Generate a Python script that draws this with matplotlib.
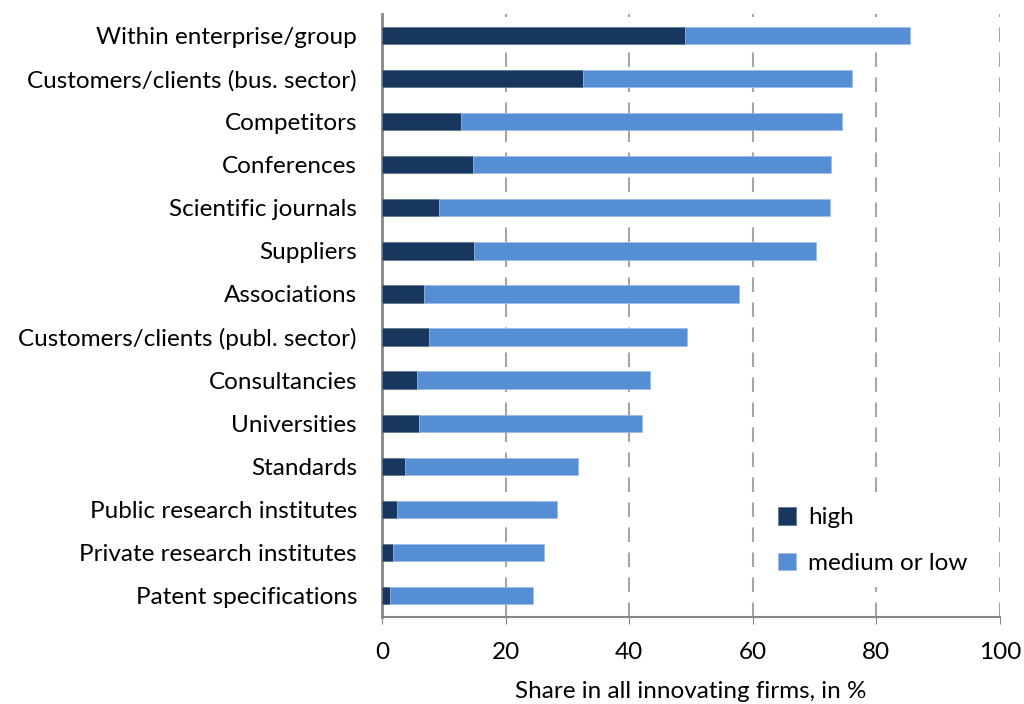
import numpy as np
import matplotlib
matplotlib.use("Agg")
import matplotlib.pyplot as plt

categories = [
    "Within enterprise/group",
    "Customers/clients (bus. sector)",
    "Competitors",
    "Conferences",
    "Scientific journals",
    "Suppliers",
    "Associations",
    "Customers/clients (publ. sector)",
    "Consultancies",
    "Universities",
    "Standards",
    "Public research institutes",
    "Private research institutes",
    "Patent specifications",
]
high = [49.0, 32.5, 12.8, 14.7, 9.2, 14.9, 6.8, 7.6, 5.7, 6.0, 3.7, 2.4, 1.8, 1.3]
total = [85.4, 76.1, 74.4, 72.7, 72.5, 70.2, 57.8, 49.4, 43.4, 42.1, 31.7, 28.3, 26.2, 24.4]
medium_low = [t - h for t, h in zip(total, high)]

plt.rcParams['font.family'] = ['Lato', 'DejaVu Sans']
fs = 17.5

fig = plt.figure(figsize=(10.24, 7.04), dpi=100)
ax = fig.add_axes([382 / 1024, 1 - 617 / 704, 618 / 1024, 603 / 704])

y = np.arange(len(categories))
dark = '#17375e'
light = '#558ed5'
ax.barh(y, high, height=0.4, color=dark, edgecolor='#5a6f8a', linewidth=0.5, label='high', zorder=3)
ax.barh(y, medium_low, left=high, height=0.4, color=light, edgecolor='#9dbbe6', linewidth=0.5,
        label='medium or low', zorder=3)

ax.set_ylim(len(categories) - 0.5, -0.5)
ax.set_xlim(0, 100)
ax.set_yticks(y)
ax.set_yticklabels(categories, fontsize=fs)
ax.set_xticks(range(0, 101, 20))
ax.tick_params(axis='x', labelsize=fs, length=5, color='#868686', direction='out', pad=13)
ax.tick_params(axis='y', length=0, pad=18)

for v in range(20, 101, 20):
    ax.axvline(v, color='#a6a6a6', linestyle=(0, (7, 5)), linewidth=1.5, zorder=1)

for s in ['top', 'right']:
    ax.spines[s].set_visible(False)
ax.spines['left'].set_color('#868686')
ax.spines['left'].set_linewidth(2)
ax.spines['bottom'].set_color('#868686')
ax.spines['bottom'].set_linewidth(1.5)

ax.set_xlabel('Share in all innovating firms, in %', fontsize=fs, labelpad=13)

leg = ax.legend(loc='upper left', bbox_to_anchor=(0.601, 0.223), frameon=True, fontsize=fs,
                handlelength=0.75, handleheight=0.75, handletextpad=0.5, labelspacing=1.0,
                borderpad=0.5, fancybox=False, edgecolor='white', framealpha=1)
leg.set_zorder(5)

fig.savefig('out.png', dpi=100)
